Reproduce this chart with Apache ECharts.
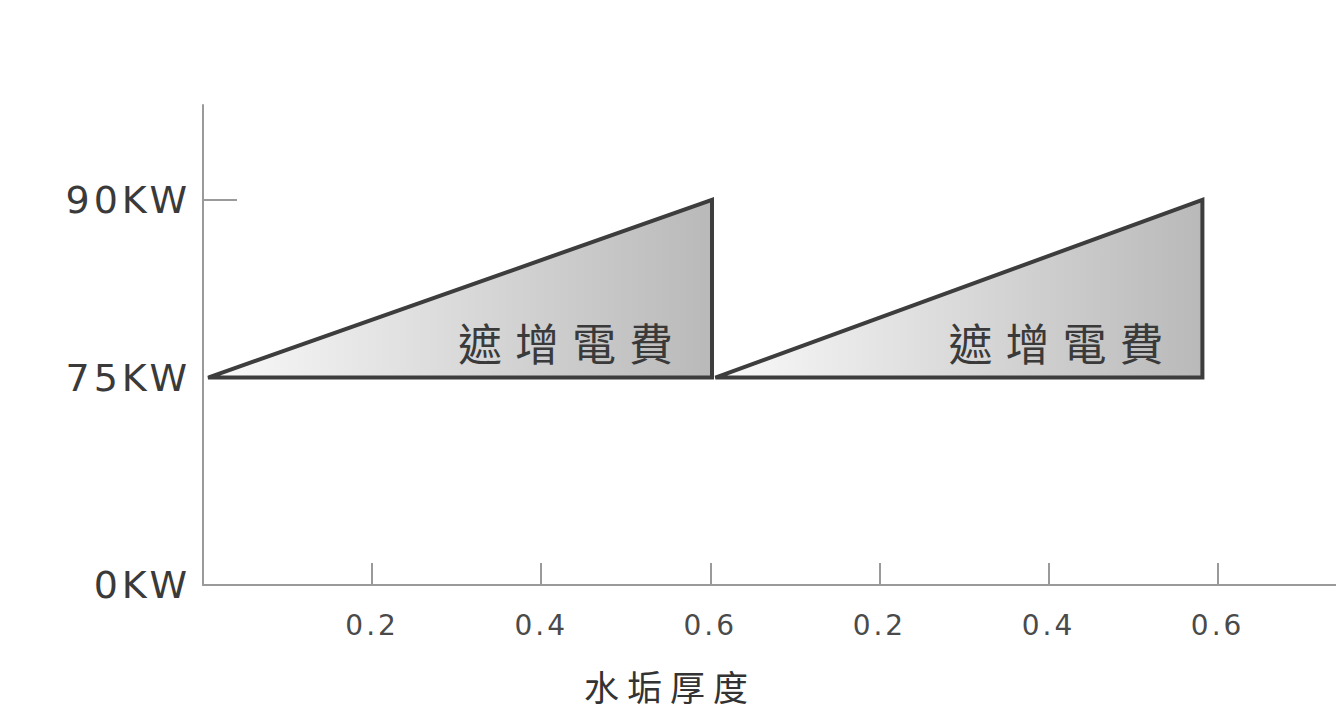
<!DOCTYPE html>
<html><head><meta charset="utf-8">
<script src="https://cdn.jsdelivr.net/npm/echarts@6.0.0/dist/echarts.min.js"></script>
<style>
html,body{margin:0;padding:0;background:#fff}
#c{width:1336px;height:719px}
#c text[style*="44px"]{letter-spacing:13px}
#c text[style*="38px"]{letter-spacing:4px}
#c text[style*="35px"]{letter-spacing:8px}
#c text[style*="28px"]{letter-spacing:3px}
</style>
</head><body><div id="c"></div>
<script>
// ---- data ----
const xTickValues = [0.2, 0.4, 0.6, 0.8, 1.0, 1.2];
const xTickLabels = ['0.2', '0.4', '0.6', '0.2', '0.4', '0.6'];
const yTickValues = [0, 75, 90];
const yTickLabels = ['0KW', '75KW', '90KW'];
const yTickMarks = [90];
const triStart = [0.006, 0.606];
const triEnd = [0.602, 1.182];
const triBase = [75, 75];
const triPeak = [90, 90];
const triLabels = ['遮增電費', '遮增電費'];
const xAxisName = '水垢厚度';

const chart = echarts.init(document.getElementById('c'), null, { renderer: 'svg' });
const numFont = "'DejaVu Sans', sans-serif";
const cjkFont = "'Noto Sans CJK TC', 'Noto Sans CJK SC', sans-serif";
const axisGray = '#9a9a9a';

function nearestLabel(values, labels, v) {
  let best = 0;
  values.forEach((t, i) => { if (Math.abs(t - v) < Math.abs(values[best] - v)) best = i; });
  return labels[best];
}

chart.setOption({
  animation: false,
  backgroundColor: '#ffffff',
  title: {
    text: xAxisName, left: 584, top: 668, padding: 0,
    textStyle: { fontSize: 35, fontWeight: 'normal', color: '#333', fontFamily: cjkFont }
  },
  grid: { left: 203, right: 0, top: 105, bottom: 134, containLabel: false },
  xAxis: {
    type: 'value', min: 0, max: 1.34,
    splitLine: { show: false },
    axisLine: { show: true, lineStyle: { color: axisGray, width: 2 } },
    axisTick: { show: true, inside: true, length: 22, customValues: xTickValues,
      lineStyle: { color: axisGray, width: 2 } },
    axisLabel: {
      customValues: xTickValues, margin: 26,
      fontSize: 28, color: '#4a4a4a', fontFamily: numFont,
      formatter: v => nearestLabel(xTickValues, xTickLabels, v)
    }
  },
  yAxis: [{
    type: 'value', min: 0, max: 98,
    breaks: [{ start: 5, end: 70, gap: 7.5 }],
    breakArea: { show: false },
    splitLine: { show: false },
    axisLine: { show: false },
    axisTick: { show: true, inside: true, length: 34, customValues: yTickMarks,
      lineStyle: { color: axisGray, width: 2 } },
    axisLabel: {
      customValues: yTickValues, margin: 12,
      fontSize: 38, color: '#3a3a3a', fontFamily: numFont,
      formatter: v => nearestLabel(yTickValues, yTickLabels, v)
    }
  }, {
    // continuous axis line (the break would otherwise cut it)
    type: 'value', position: 'left', offset: 0, min: 0, max: 1,
    splitLine: { show: false }, axisTick: { show: false }, axisLabel: { show: false },
    axisLine: { show: true, lineStyle: { color: axisGray, width: 2 } }
  }],
  series: [{
    type: 'custom',
    coordinateSystem: 'cartesian2d',
    yAxisIndex: 0,
    encode: { x: [0, 1], y: [2, 3] },
    data: triStart.map((s, i) => [s, triEnd[i], triBase[i], triPeak[i]]),
    renderItem: function (params, api) {
      const a = api.coord([api.value(0), api.value(2)]);
      const c = api.coord([api.value(1), api.value(2)]);
      const d = api.coord([api.value(1), api.value(3)]);
      return {
        type: 'group',
        children: [{
          type: 'polygon',
          shape: { points: [a, d, c] },
          style: {
            fill: new echarts.graphic.LinearGradient(0, 0, 1, 0, [
              { offset: 0, color: '#fafafa' },
              { offset: 1, color: '#b9b9b9' }
            ]),
            stroke: '#3d3d3d', lineWidth: 4, lineJoin: 'miter'
          }
        }, {
          type: 'text',
          x: c[0] - 26, y: c[1] - 14,
          style: {
            text: triLabels[params.dataIndex],
            fontSize: 44, fontFamily: cjkFont, fill: '#3a3a3a',
            align: 'right', verticalAlign: 'bottom'
          }
        }]
      };
    }
  }]
});
</script>
</body></html>
